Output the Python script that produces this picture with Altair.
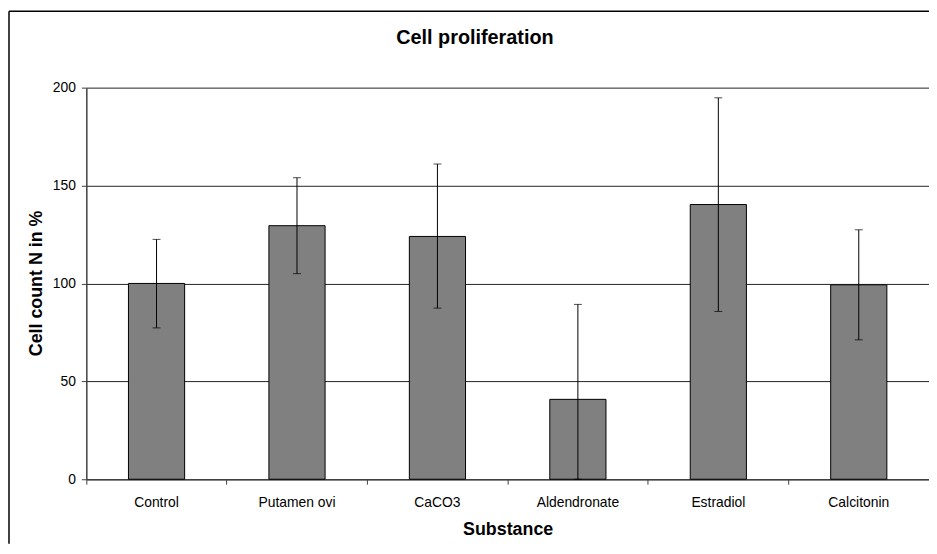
import altair as alt
import pandas as pd

substances = ["Control", "Putamen ovi", "CaCO3", "Aldendronate", "Estradiol", "Calcitonin"]
means = [100.0, 129.5, 124.0, 40.8, 140.3, 99.3]
err_low = [77.3, 105.0, 87.4, 0.0, 85.7, 71.2]
err_high = [122.5, 154.0, 161.0, 89.3, 194.8, 127.4]
y_ticks = [0, 50, 100, 150, 200]
chart_title = ["Cell proliferation"]

df = pd.DataFrame({"Substance": substances, "mean": means, "lo": err_low, "hi": err_high})

FONT = "Liberation Sans"

x_enc = alt.X(
    "Substance:N",
    sort=substances,
    scale=alt.Scale(paddingInner=0, paddingOuter=0),
    axis=alt.Axis(
        title="Substance", titleFontSize=18, titleFontWeight="bold", titleFont=FONT,
        titleY=56, titleBaseline="alphabetic", labelAngle=0, labelFontSize=14,
        labelFont=FONT, labelColor="black", labelPadding=11, tickSize=5,
        bandPosition=0, grid=False, domainColor="#404040", tickColor="#404040",
        domainWidth=1.5,
    ),
)

base = alt.Chart(df)

bars = base.mark_bar(
    width=alt.RelativeBandSize(0.4), color="#808080", stroke="black", strokeWidth=1
).encode(
    x=x_enc,
    y=alt.Y(
        "mean:Q",
        scale=alt.Scale(domain=[0, 200], nice=False),
        axis=alt.Axis(
            title="Cell count N in %", titleFontSize=18, titleFontWeight="bold", titleFont=FONT,
            titleX=-45, titleY=197, titleBaseline="alphabetic", values=y_ticks,
            labelFontSize=14, labelFont=FONT, labelColor="black", labelPadding=6,
            tickSize=5, gridColor="#222222", gridWidth=1, domainColor="#404040",
            tickColor="#404040", domainWidth=1.5,
        ),
    ),
)

rules = base.mark_rule(color="black", strokeWidth=1).encode(
    x=alt.X("Substance:N", sort=substances), y="lo:Q", y2="hi:Q"
)
cap_hi = base.mark_tick(color="black", size=8, thickness=1).encode(
    x=alt.X("Substance:N", sort=substances), y="hi:Q"
)
cap_lo = base.mark_tick(color="black", size=8, thickness=1).encode(
    x=alt.X("Substance:N", sort=substances), y="lo:Q"
)

title_df = pd.DataFrame({"t": chart_title})
title_text = alt.Chart(title_df).mark_text(
    font=FONT, fontSize=20, fontWeight="bold", color="black", align="center",
    baseline="alphabetic",
).encode(text="t:N", x=alt.value(392), y=alt.value(-44))

border_df = pd.DataFrame({"a": [0]})
border_left = alt.Chart(border_df).mark_rule(color="black", strokeWidth=1.5).encode(
    x=alt.value(-78), y=alt.value(-77), y2=alt.value(460)
)
border_top = alt.Chart(border_df).mark_rule(color="black", strokeWidth=1.5).encode(
    x=alt.value(-78), x2=alt.value(850), y=alt.value(-77)
)

chart = alt.layer(bars, rules, cap_hi, cap_lo, title_text, border_left, border_top).properties(
    width=850,
    height=395,
    autosize=alt.AutoSizeParams(type="none"),
    padding={"left": 79, "top": 78, "right": 0, "bottom": 65},
).configure_view(strokeWidth=0).configure_axis(labelColor="black", titleColor="black")

chart.save("out.html", embed_options={"renderer": "svg", "actions": False})
